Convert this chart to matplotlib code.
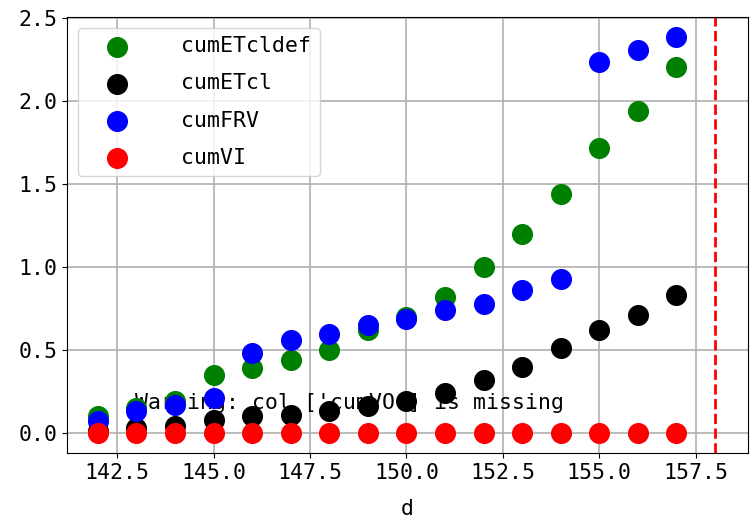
import matplotlib.pyplot as plt
import numpy as np

plt.rcParams['font.family'] = ['DejaVu Sans Mono']
plt.rcParams['font.size'] = 15.5

# data
d = [142, 143, 144, 145, 146, 147, 148, 149, 150, 151, 152, 153, 154, 155, 156, 157]
cumETcldef = [0.10, 0.15, 0.19, 0.35, 0.39, 0.44, 0.50, 0.62, 0.70, 0.82, 1.00, 1.20, 1.44, 1.72, 1.94, 2.21]
cumETcl = [0.01, 0.03, 0.04, 0.08, 0.10, 0.11, 0.13, 0.16, 0.19, 0.24, 0.32, 0.40, 0.51, 0.62, 0.71, 0.83]
cumFRV = [0.07, 0.13, 0.17, 0.21, 0.48, 0.56, 0.60, 0.65, 0.69, 0.74, 0.78, 0.86, 0.93, 2.24, 2.31, 2.39]
cumVI = [0.0] * 16
d_cut = 158

fig, ax = plt.subplots(figsize=(7.53, 5.26), dpi=100)
ax.scatter(d, cumETcldef, s=200, c='green', label='cumETcldef', zorder=3)
ax.scatter(d, cumETcl, s=200, c='black', label='cumETcl', zorder=3)
ax.scatter(d, cumFRV, s=200, c='blue', label='cumFRV', zorder=3)
ax.scatter(d, cumVI, s=200, c='red', label='cumVI', zorder=3)
ax.axvline(d_cut, color='red', linestyle='--', linewidth=2)

ax.text(0.1, 0.1, "Warning: col ['cumVO'] is missing", transform=ax.transAxes, zorder=2)

ax.set_xlim(141.2, 158.85)
ax.set_ylim(-0.12, 2.51)
ax.set_xticks([142.5, 145.0, 147.5, 150.0, 152.5, 155.0, 157.5])
ax.set_xticklabels(['142.5', '145.0', '147.5', '150.0', '152.5', '155.0', '157.5'])
ax.set_yticks([0.0, 0.5, 1.0, 1.5, 2.0, 2.5])
ax.set_yticklabels(['0.0', '0.5', '1.0', '1.5', '2.0', '2.5'])
ax.grid(True, color='#b0b0b0', linewidth=1.2)
ax.set_axisbelow(True)
ax.set_xlabel('d', labelpad=12)
ax.legend(loc='upper left', handlelength=2.8, handletextpad=1.6, labelspacing=0.8)

fig.subplots_adjust(left=0.089, right=0.993, top=0.968, bottom=0.139)
fig.savefig('out.png')
